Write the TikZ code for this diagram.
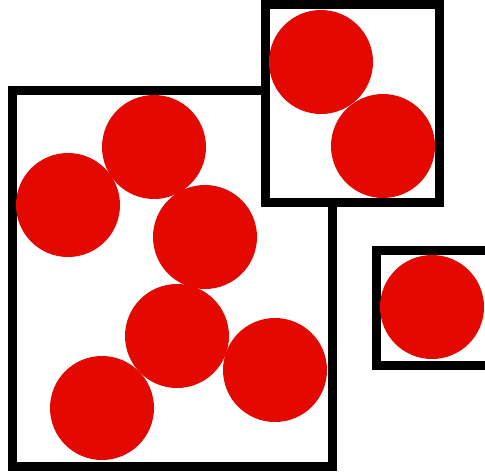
\documentclass[tikz,border=0pt]{standalone}
\begin{document}
\begin{tikzpicture}[x=1pt,y=-1pt,
  box/.style={draw=black,fill=white,line width=9pt},
  ball/.style={fill=ballred,draw=none}]
\definecolor{ballred}{RGB}{227,8,0}
\useasboundingbox (0,0) rectangle (485,472);
\clip (0,0) rectangle (485,472);
\draw[box] (12.3,90) rectangle (332.5,466);
\fill[ball] (68,205) circle (52);
\fill[ball] (154,147) circle (52);
\fill[ball] (205,237) circle (52);
\fill[ball] (177,336) circle (52);
\fill[ball] (275,370) circle (52);
\fill[ball] (102,408) circle (52);
\draw[box] (265,4) rectangle (439,202);
\fill[ball] (321,62) circle (52);
\fill[ball] (383,146) circle (52);
\draw[box] (376,250.5) rectangle (500,365);
\fill[ball] (432,307) circle (52);
\end{tikzpicture}
\end{document}
